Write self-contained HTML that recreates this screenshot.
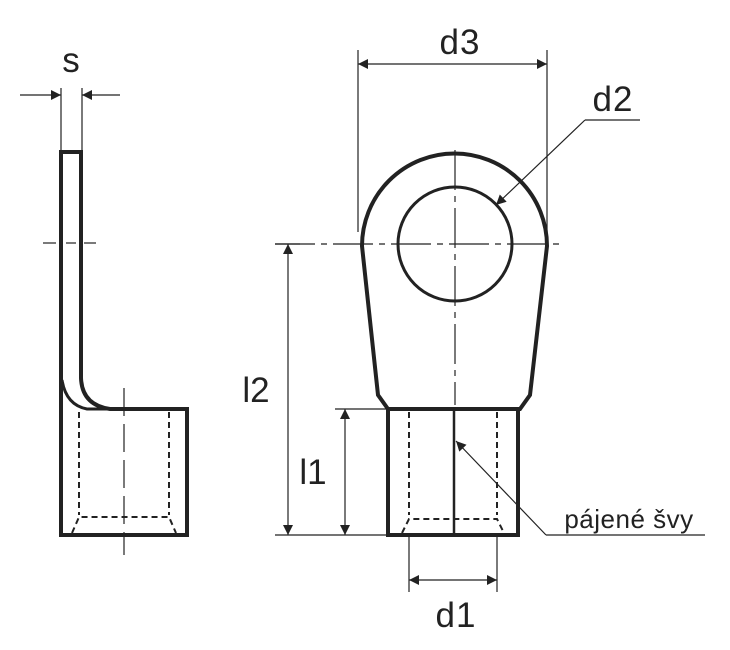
<!DOCTYPE html>
<html><head><style>html,body{margin:0;background:#fff}svg{display:block}</style></head><body>
<svg width="730" height="650" viewBox="0 0 730 650" xmlns="http://www.w3.org/2000/svg">
<defs>
<marker id="a" viewBox="0 0 10 10" refX="10" refY="5" markerWidth="18" markerHeight="10" markerUnits="userSpaceOnUse" orient="auto-start-reverse"><path d="M0,0L10,5L0,10z" fill="#222"/></marker>
</defs>
<g fill="none" stroke="#222" stroke-width="1.2">
<line x1="61" y1="88" x2="61" y2="152"/><line x1="82" y1="88" x2="82" y2="152"/>
<line x1="20" y1="95" x2="61" y2="95" marker-end="url(#a)"/>
<line x1="120" y1="95" x2="82" y2="95" marker-end="url(#a)"/>
<line x1="43" y1="243" x2="56" y2="243"/><line x1="66" y1="243" x2="76" y2="243"/><line x1="84" y1="243" x2="96" y2="243"/>
<line x1="124" y1="388" x2="124" y2="555" stroke-dasharray="28,8"/>
</g>
<g fill="none" stroke="#222" stroke-width="4" stroke-linejoin="miter">
<path d="M61,535 L61,152 L81,152 L81,378 Q82,405 110,409 L187,409 L187,535 Z"/>
<path d="M62,380 Q66,405 87,409 L110,409" stroke-width="3"/>
</g>
<g fill="none" stroke="#222" stroke-width="2" stroke-dasharray="6,4">
<line x1="79" y1="412" x2="79" y2="515"/><line x1="169" y1="412" x2="169" y2="515"/>
<path d="M72,533 L79,517 L169,517 L176,533"/>
</g>
<g fill="none" stroke="#222" stroke-width="1.2">
<line x1="358" y1="50" x2="358" y2="232"/><line x1="547" y1="50" x2="547" y2="232"/>
<line x1="358" y1="64" x2="547" y2="64" marker-start="url(#a)" marker-end="url(#a)"/>
<line x1="275" y1="244" x2="560" y2="244" stroke-dasharray="40,6,6,6"/>
<line x1="455" y1="150" x2="455" y2="405" stroke-dasharray="40,6,6,6"/>
<line x1="640" y1="120" x2="585" y2="120"/><line x1="585" y1="120" x2="496" y2="205" marker-end="url(#a)"/>
<line x1="275" y1="535" x2="388" y2="535"/><line x1="275" y1="244" x2="300" y2="244"/>
<line x1="335" y1="409" x2="388" y2="409"/>
<line x1="288" y1="244" x2="288" y2="535" marker-start="url(#a)" marker-end="url(#a)"/>
<line x1="345" y1="409" x2="345" y2="535" marker-start="url(#a)" marker-end="url(#a)"/>
<line x1="409" y1="537" x2="409" y2="592"/><line x1="497" y1="537" x2="497" y2="592"/>
<line x1="409" y1="580" x2="497" y2="580" marker-start="url(#a)" marker-end="url(#a)"/>
<line x1="705" y1="535" x2="546" y2="535"/><line x1="546" y1="535" x2="456" y2="441" marker-end="url(#a)"/>
</g>
<g fill="none" stroke="#222" stroke-width="4">
<path d="M388,409 L378,395 L362,246 A92.5,92.5 0 0 1 547,246 L530,395 L520,409 Z"/>
<rect x="388" y="409" width="130" height="126"/>
<circle cx="455" cy="244" r="57" stroke-width="3"/>
<line x1="454" y1="409" x2="454" y2="535" stroke-width="2.5"/>
</g>
<g fill="none" stroke="#222" stroke-width="2" stroke-dasharray="6,4">
<line x1="409" y1="412" x2="409" y2="515"/><line x1="497" y1="412" x2="497" y2="515"/>
<path d="M402,533 L409,519 L497,519 L504,533"/>
</g>
<g font-family="Liberation Sans, sans-serif" font-size="35" fill="#222" text-anchor="middle">
<text x="71" y="72">s</text>
<text x="460" y="54" letter-spacing="1">d3</text>
<text x="613" y="111" letter-spacing="1">d2</text>
<text x="256" y="402">l2</text>
<text x="313" y="484">l1</text>
<text x="456" y="627" letter-spacing="1">d1</text>
<text x="629" y="528" font-size="26" letter-spacing="0.5">pájené švy</text>
</g>
</svg>
</body></html>
